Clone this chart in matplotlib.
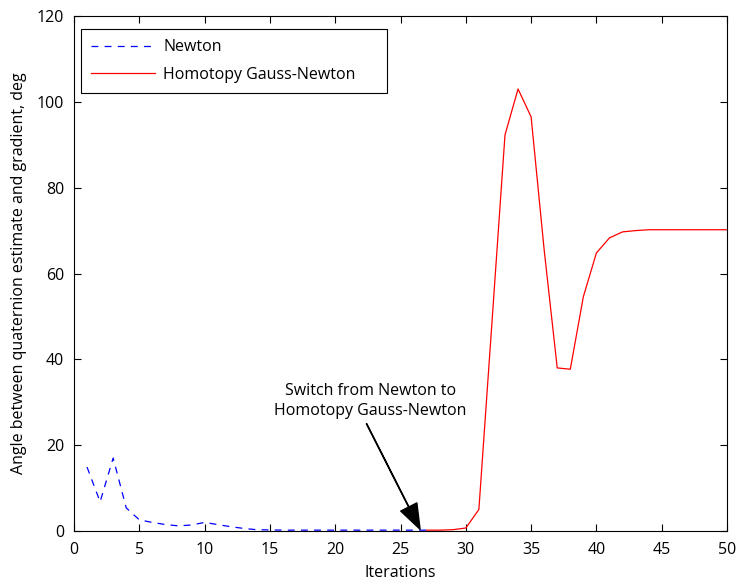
import matplotlib.pyplot as plt
import numpy as np

plt.rcParams['font.family'] = ['Open Sans', 'DejaVu Sans']
fs = 11.5

# Newton iterations (blue dashed)
newton_x = list(range(1, 28))
newton_y = [14.9, 6.8, 17.0, 5.4, 2.6, 2.0, 1.5, 1.2, 1.4, 2.0,
            1.5, 1.0, 0.6, 0.3, 0.25, 0.2, 0.2, 0.2, 0.2, 0.2,
            0.2, 0.2, 0.2, 0.2, 0.2, 0.2, 0.2]

# Homotopy Gauss-Newton (red solid)
hgn_x = list(range(27, 51))
hgn_y = [0.2, 0.2, 0.3, 0.7, 5.0, 48.5, 92.3, 103.0, 96.5, 65.5,
         38.0, 37.7, 54.6, 64.8, 68.3, 69.7, 70.0, 70.2, 70.2, 70.2,
         70.2, 70.2, 70.2, 70.2]

fig = plt.figure(figsize=(7.39, 5.85), dpi=100)
ax = fig.add_axes([0.1001, 0.0923, 0.8837, 0.8803])

ax.plot(newton_x, newton_y, color='blue', linestyle=(0, (5.5, 5)), linewidth=0.9, label='Newton')
ax.plot(hgn_x, hgn_y, color='red', linestyle='-', linewidth=0.9,
        label='Homotopy Gauss-Newton' + '\u00a0' * 5)

ax.set_xlim(0, 50)
ax.set_ylim(0, 120)
ax.set_xticks(np.arange(0, 51, 5))
ax.set_yticks(np.arange(0, 121, 20))
ax.tick_params(direction='in', top=True, right=True, labelsize=fs, length=5)
ax.tick_params(axis='x', pad=8)
ax.tick_params(axis='y', pad=7)
ax.set_xlabel('Iterations', fontsize=fs, labelpad=5)
ax.set_ylabel('Angle between quaternion estimate and gradient, deg', fontsize=fs, labelpad=7)

# annotation text and arrow
ax.text(22.7, 30.3, 'Switch from Newton to\nHomotopy Gauss-Newton',
        ha='center', va='center', fontsize=fs, linespacing=1.4)
ax.annotate('', xy=(26.5, 0.4), xytext=(22.4, 25.0),
            arrowprops=dict(facecolor='black', edgecolor='black', width=0.3,
                            headwidth=13, headlength=18, shrink=0.0))

leg = ax.legend(loc='upper left', bbox_to_anchor=(0.0107, 0.9748), borderaxespad=0,
                fontsize=fs, fancybox=False, framealpha=1, edgecolor='black',
                borderpad=0.65, handlelength=4.0, handletextpad=0.5, labelspacing=0.7)
leg.get_frame().set_linewidth(0.8)

fig.savefig('out.png', dpi=100)
